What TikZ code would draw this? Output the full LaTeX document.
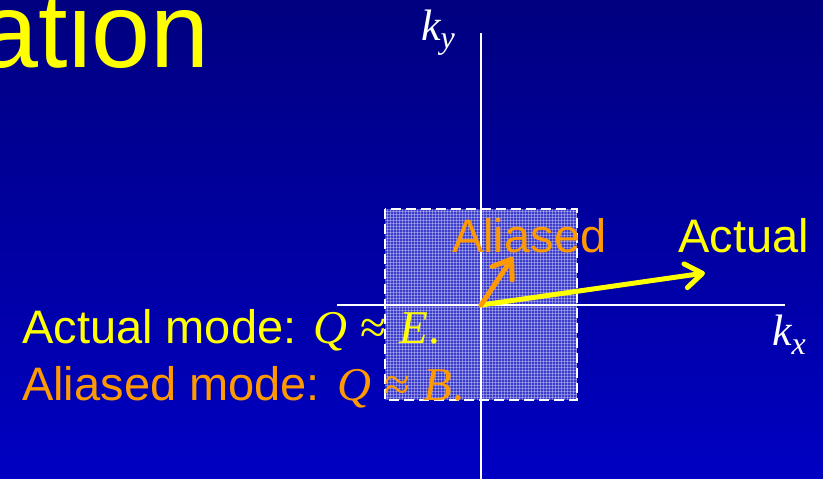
\documentclass[tikz,border=0pt]{standalone}
\usepackage{fontspec}
\setmainfont{Liberation Sans}
\newfontfamily\tmsfont{Liberation Serif}
\usetikzlibrary{arrows.meta}
\definecolor{bgtop}{RGB}{0,0,128}
\definecolor{bgbot}{RGB}{0,0,194}
\definecolor{sqfill}{RGB}{60,60,205}
\definecolor{ttyellow}{RGB}{255,255,0}
\definecolor{ttorange}{RGB}{255,153,0}
\tikzset{
  lbl/.style={inner sep=0pt, anchor=base west, font=\fontsize{47}{50}\selectfont},
  axislbl/.style={inner sep=0pt, anchor=base west, text=white, font=\fontsize{44}{48}\selectfont\tmsfont\itshape},
  axisline/.style={white, line width=2pt},
  gridline/.style={white, opacity=0.33, line width=0.7pt},
  vecarrow/.style={line width=5pt, line cap=round,
    -{Straight Barb[length=17pt,width=24pt,line cap=round,line join=round]}}
}
\begin{document}
\begin{tikzpicture}[x=1pt,y=-1pt]
\useasboundingbox (0,0) rectangle (823,479);
\clip (0,0) rectangle (823,479);
\shade[top color=bgtop, bottom color=bgbot] (0,0) rectangle (823,479);
% title fragment
\node[inner sep=0pt, anchor=base east, text=ttyellow, font=\fontsize{106}{110}\selectfont] (title) at (210,67) {ation};
% aliasing square
\fill[sqfill] (385,209) rectangle (577,400);
\foreach \gx in {387,390,...,576} {\draw[gridline] (\gx,209) -- (\gx,400);}
\foreach \gy in {211,214,...,399} {\draw[gridline] (385,\gy) -- (577,\gy);}
\draw[white, line width=2pt, dash pattern=on 10pt off 5pt] (385,209) rectangle (577,400);
% axes
\coordinate (O) at (481,305);
\coordinate (ytop) at (481,33);
\coordinate (ybot) at (481,479);
\coordinate (xl) at (337,305);
\coordinate (xr) at (785,305);
\draw[axisline] (ybot) -- (ytop);
\draw[axisline] (xl) -- (xr);
\node[axislbl] (ky) at (421,40) {k\raisebox{-9pt}{\fontsize{32}{34}\selectfont y}};
\node[axislbl] (kx) at (772,345) {k\raisebox{-9pt}{\fontsize{32}{34}\selectfont x}};
% vectors
\coordinate (Atip) at (705,273);
\coordinate (Btip) at (513,257);
\draw[vecarrow, ttyellow] (O) -- (Atip);
\draw[vecarrow, ttorange] (O) -- (Btip);
% labels
\node[lbl, text=ttorange] (aliased) at (452,252) {Aliased};
\node[lbl, text=ttyellow] (actual) at (678,252) {Actual};
\node[lbl, text=ttyellow] (line1) at (22,343) {Actual mode: {\tmsfont\itshape Q} {\tmsfont ≈} {\tmsfont\itshape E}{\tmsfont .}};
\node[lbl, text=ttorange] (line2) at (22,400) {Aliased mode: {\tmsfont\itshape Q} {\tmsfont ≈} {\tmsfont\itshape B}{\tmsfont .}};
\end{tikzpicture}
\end{document}
